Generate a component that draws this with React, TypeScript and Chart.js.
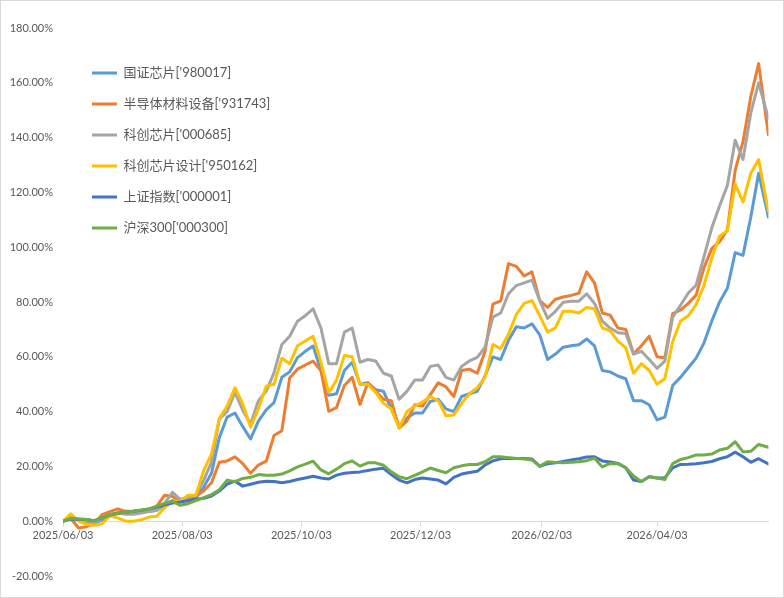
import React, { useEffect, useRef } from 'react';
import { Chart, registerables } from 'chart.js';

Chart.register(...registerables);

// ---- data ----
const seriesNames = [
  "国证芯片['980017]",
  "半导体材料设备['931743]",
  "科创芯片['000685]",
  "科创芯片设计['950162]",
  "上证指数['000001]",
  "沪深300['000300]",
];
const seriesColors = ['#5B9BD5', '#ED7D31', '#A5A5A5', '#FFC000', '#4472C4', '#70AD47'];

// days since 2025/06/03
const days = [
  0, 4, 8, 12, 16, 20, 24, 28, 32, 36,
  40, 44, 48, 52, 56, 60, 64, 68, 72, 76,
  80, 84, 88, 92, 96, 100, 104, 108, 112, 116,
  120, 124, 128, 132, 136, 140, 144, 148, 152, 156,
  160, 164, 168, 172, 176, 180, 184, 188, 192, 196,
  200, 204, 208, 212, 216, 220, 224, 228, 232, 236,
  240, 244, 248, 252, 256, 260, 264, 268, 272, 276,
  280, 284, 288, 292, 296, 300, 304, 308, 312, 316,
  320, 324, 328, 332, 336, 340, 344, 348, 352, 356,
  361,
];

const guoZhengXinPian = [
  0, 1.2, 0.5, -0.5, -0.8, 0.5, 2.0, 2.8, 3.0, 3.5,
  3.8, 3.5, 4.0, 5.8, 7.5, 7.0, 7.8, 8.5, 12.5, 17.5,
  30.5, 38, 39.5, 34.5, 30, 36.5, 40.6, 43.3, 52.5, 54.5,
  59.7, 62, 63.9, 55, 46, 46.5, 55, 58, 50, 50.5,
  48, 47.4, 41, 34.5, 37.7, 39.5, 39.5, 43.7, 44.5, 41,
  40, 45.5, 46.5, 47.4, 53, 60, 59, 66, 71, 70.5,
  72, 68, 59, 61, 63.5, 64, 64.4, 66.5, 64, 55,
  54.5, 53, 52, 44, 44, 42.5, 37, 38, 49.5, 52.5,
  56, 59.5, 65, 73, 80, 85, 98, 97, 111, 127,
  111,
];
const banDaoTiCaiLiao = [
  0, 1.0, -2.5, -2.0, -0.8, 2.4, 3.5, 4.5, 3.6, 3.6,
  3.6, 4.0, 5.5, 9.5, 9.0, 7.3, 8.3, 9.2, 11, 14,
  21.5, 22, 23.5, 21, 17.5, 20.5, 21.9, 31.3, 33, 52.3,
  55.5, 57, 58.4, 55, 40.1, 41.5, 49.5, 52.5, 42.6, 50.5,
  47.5, 44.5, 44, 34, 36.5, 42.5, 42, 46.2, 50.5, 49,
  45.5, 55, 55.5, 54, 62, 79.2, 80.4, 94, 93, 89.5,
  91, 80.5, 78, 81, 81.8, 82.4, 83.2, 91, 87, 76,
  75.2, 70.5, 70, 61, 64, 67.5, 60, 59.6, 75.8, 77,
  79.5, 82.5, 92.5, 99.5, 102, 106.3, 128, 138.5, 155, 167,
  141,
];
const keChuangXinPian = [
  0, 1.5, 0.5, -0.5, -0.5, 1.0, 2.5, 3.0, 2.5, 2.5,
  3.0, 3.5, 4.0, 6.5, 10.5, 8.0, 8.5, 9.5, 15, 21.5,
  37.3, 40, 47, 40.5, 35.5, 44, 47.4, 54.2, 64.5, 67.5,
  73, 75, 77.5, 70.5, 57.5, 57.5, 69, 70.5, 58, 59,
  58.5, 54, 53, 44.5, 47.4, 51.5, 51.5, 56.5, 57, 52.5,
  51.5, 56.5, 58.5, 59.8, 63.5, 74.5, 76, 83, 86, 87,
  88, 80.5, 74, 76.6, 79.9, 80.3, 80.3, 83, 79.5, 73,
  70.5, 68.8, 68.5, 61, 62, 59, 55.8, 58.4, 74.5, 78.8,
  83.3, 86.1, 96.5, 107, 115, 122.5, 139, 132, 149, 160,
  147,
];
const keChuangSheJi = [
  0, 2.7, 0.0, -1.2, -1.5, -1.0, 2.0, 1.2, 0.0, 0.0,
  0.5, 1.5, 1.8, 4.9, 7.3, 7.3, 9.5, 9.5, 18.5, 24.5,
  37.5, 42, 48.7, 42.8, 34.3, 41, 49.3, 50, 59.5, 57.5,
  64, 65.8, 67.5, 58, 46.9, 51.5, 60.5, 60, 49.9, 50,
  47, 43, 41, 34, 40, 42, 43.5, 45.5, 44, 38.5,
  38.8, 43, 46.5, 48.7, 52.5, 64.5, 63, 68.2, 75.5, 79.5,
  80.5, 75, 69, 70.6, 76.6, 76.6, 76, 78, 77.5, 70.5,
  69.5, 65.7, 63.3, 54, 57.5, 55, 50, 52, 65.5, 73,
  75, 79, 86, 96, 104, 106, 123, 116.5, 127, 132,
  113,
];
const shangZhengZhiShu = [
  0, 0.8, 0.7, 0.6, 0.2, 1.2, 2.2, 3.0, 3.3, 3.6,
  4.0, 4.5, 5.2, 6.0, 6.6, 7.0, 7.5, 8.0, 8.4, 9.2,
  11.0, 13.5, 14.6, 12.8, 13.5, 14.2, 14.6, 14.5, 14.0, 14.5,
  15.2, 15.8, 16.4, 15.8, 15.4, 16.8, 17.5, 17.8, 18.0, 18.5,
  19.0, 19.3, 17.0, 15.0, 14.0, 15.2, 15.8, 15.4, 15.0, 13.6,
  16.0, 17.2, 17.8, 18.2, 20.5, 22.0, 22.8, 23.0, 22.9, 22.9,
  22.7, 20.0, 21.0, 21.3, 21.8, 22.3, 22.8, 23.4, 23.5, 22.0,
  21.6, 21.1, 19.5, 15.0, 14.5, 16.2, 15.8, 15.8, 19.5, 20.7,
  20.8, 21.0, 21.3, 21.8, 22.8, 23.5, 25.2, 23.5, 21.5, 22.8,
  20.9,
];
const huShen300 = [
  0, 1.0, 0.8, 0.6, 0.2, 1.2, 2.3, 3.0, 3.3, 3.6,
  4.1, 4.5, 5.5, 6.5, 7.3, 5.8, 6.4, 7.5, 8.6, 9.7,
  11.5, 15.0, 14.4, 15.6, 16.0, 17.0, 16.8, 16.8, 17.2, 18.4,
  19.8, 20.8, 21.9, 18.7, 17.3, 19.0, 21.0, 22.0, 20.1, 21.3,
  21.3, 20.4, 18.0, 16.2, 15.5, 16.7, 18.0, 19.4, 18.5, 17.7,
  19.5, 20.2, 20.7, 20.7, 21.7, 23.5, 23.5, 23.2, 22.9, 22.7,
  22.3, 20.1, 21.7, 21.4, 21.3, 21.5, 21.7, 22.1, 23.0, 19.8,
  21.1, 21.0, 19.5, 16.5, 14.5, 16.3, 15.8, 15.2, 21.0, 22.5,
  23.2, 24.2, 24.2, 24.5, 26.0, 26.6, 29.0, 25.3, 25.5, 28.0,
  27.0,
];

const seriesValues = [guoZhengXinPian, banDaoTiCaiLiao, keChuangXinPian, keChuangSheJi, shangZhengZhiShu, huShen300];

const xTickLabels = ['2025/06/03', '2025/08/03', '2025/10/03', '2025/12/03', '2026/02/03', '2026/04/03'];
const yMin = -20;
const yMax = 180;
const yStep = 20;

function dayOffset(label: string): number {
  const [y, m, d] = label.split('/').map(Number);
  return Math.round((Date.UTC(y, m - 1, d) - Date.UTC(2025, 5, 3)) / 86400000);
}

const FONT = "Lato, 'Noto Sans CJK SC', 'Liberation Sans', sans-serif";
const TEXT = '#595959';

export default function App() {
  const ref = useRef<HTMLCanvasElement | null>(null);

  useEffect(() => {
    const canvas = ref.current;
    if (!canvas) return;
    const tickDays = xTickLabels.map(dayOffset);
    const labelByDay: Record<number, string> = {};
    tickDays.forEach((d, i) => { labelByDay[d] = xTickLabels[i]; });

    const legendPlacer = {
      id: 'legendPlacer',
      afterLayout(chart: any) {
        const lg = chart.legend;
        if (!lg) return;
        lg.left = 73;
        lg.top = 47.5;
        lg.right = 73 + lg.width;
        lg.bottom = 47.5 + 400;
      },
    };

    const chart = new Chart(canvas, {
      type: 'line',
      data: {
        datasets: seriesNames.map((name, i) => ({
          label: name,
          data: days.map((d, k) => ({ x: d, y: seriesValues[i][k] })),
          borderColor: seriesColors[i],
          backgroundColor: seriesColors[i],
          borderWidth: 3,
          pointRadius: 0,
          pointHoverRadius: 0,
          tension: 0,
          borderJoinStyle: 'round',
          borderCapStyle: 'round',
          fill: false,
          order: seriesNames.length - 1 - i,
        })),
      },
      options: {
        responsive: false,
        animation: false,
        events: [],
        layout: { padding: { left: 0, right: 14.6, top: 27, bottom: 21 } },
        font: { family: FONT },
        plugins: {
          tooltip: { enabled: false },
          legend: {
            display: true,
            position: 'chartArea',
            align: 'start',
            labels: {
              usePointStyle: true,
              pointStyle: 'line',
              pointStyleWidth: 25,
              padding: 18,
              color: TEXT,
              font: { family: FONT, size: 13 },
              sort: (a: any, b: any) => a.datasetIndex - b.datasetIndex,
            },
          },
        },
        scales: {
          x: {
            type: 'linear',
            position: { y: 0 } as any,
            min: 0,
            max: 361,
            offset: false,
            afterFit: (scale: any) => { scale.height = 0; },
            afterBuildTicks: (scale: any) => { scale.ticks = tickDays.map((v) => ({ value: v })); },
            grid: { display: true, drawOnChartArea: false, drawTicks: true, tickLength: 5, color: '#d9d9d9' },
            border: { display: true, color: '#d9d9d9', width: 1 },
            ticks: {
              autoSkip: false,
              maxRotation: 0,
              minRotation: 0,
              padding: 3,
              color: TEXT,
              font: { family: FONT, size: 11 },
              callback: (v: any) => labelByDay[Number(v)] ?? '',
            },
          },
          y: {
            type: 'linear',
            position: 'left',
            min: yMin,
            max: yMax,
            afterFit: (scale: any) => { scale.width = 62; },
            grid: { display: false, drawTicks: false },
            border: { display: false },
            ticks: {
              stepSize: yStep,
              padding: 10,
              color: TEXT,
              font: { family: FONT, size: 11 },
              callback: (v: any) => Number(v).toFixed(2) + '%',
            },
          },
        },
      },
      plugins: [legendPlacer],
    } as any);

    return () => { chart.destroy(); };
  }, []);

  return (
    <div
      style={{
        position: 'fixed',
        left: 0,
        top: 0,
        width: 784,
        height: 598,
        boxSizing: 'border-box',
        border: '1px solid #d9d9d9',
        background: '#ffffff',
      }}
    >
      <canvas ref={ref} width={782} height={596} style={{ display: 'block', width: 782, height: 596 }} />
    </div>
  );
}
